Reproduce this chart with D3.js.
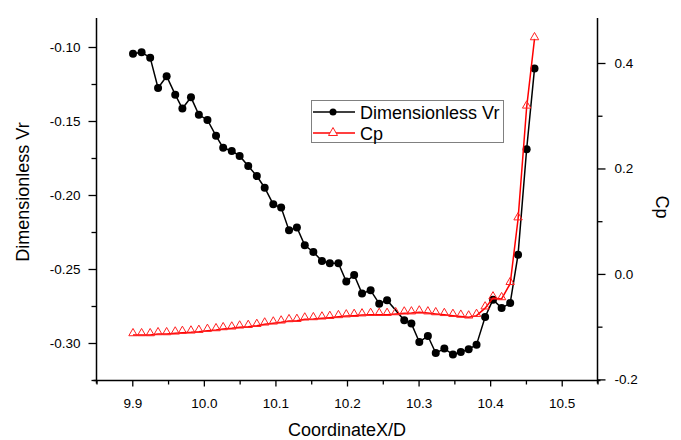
<!DOCTYPE html>
<html>
<head>
<meta charset="utf-8">
<script src="https://cdn.jsdelivr.net/npm/d3@7"></script>
<style>
  html, body { margin: 0; padding: 0; background: #fff; }
  text { font-family: "Liberation Sans", Arial, sans-serif; fill: #000; }
</style>
</head>
<body>
<svg id="chart" width="681" height="440"></svg>
<script>
// ---- data ----
const vrX = [9.901, 9.913, 9.925, 9.936, 9.948, 9.960, 9.970, 9.982, 9.993, 10.005,
             10.017, 10.027, 10.039, 10.050, 10.062, 10.074, 10.085, 10.097, 10.108, 10.119,
             10.130, 10.141, 10.153, 10.165, 10.176, 10.188, 10.199, 10.210, 10.221, 10.233,
             10.245, 10.256, 10.280, 10.290, 10.301, 10.313, 10.324, 10.336, 10.348,
             10.359, 10.370, 10.381, 10.393, 10.404, 10.416, 10.428, 10.439, 10.451, 10.462];
const vrY = [-0.1045, -0.1036, -0.1072, -0.1277, -0.1198, -0.1322, -0.1416, -0.1340, -0.1458, -0.1493,
             -0.1600, -0.1681, -0.1703, -0.1736, -0.1804, -0.1872, -0.1951, -0.2063, -0.2085, -0.2239,
             -0.2220, -0.2340, -0.2385, -0.2446, -0.2461, -0.2461, -0.2585, -0.2541, -0.2666, -0.2644,
             -0.2734, -0.2711, -0.2847, -0.2869, -0.2993, -0.2953, -0.3068, -0.3038, -0.3078,
             -0.3061, -0.3043, -0.3011, -0.2824, -0.2707, -0.2764, -0.2730, -0.2403, -0.1691, -0.1146];

const cpX = [9.901, 9.913, 9.925, 9.936, 9.948, 9.960, 9.970, 9.982, 9.993, 10.005,
             10.017, 10.027, 10.039, 10.050, 10.062, 10.074, 10.085, 10.097, 10.108, 10.119,
             10.130, 10.141, 10.153, 10.165, 10.176, 10.188, 10.199, 10.210, 10.221, 10.233,
             10.245, 10.256, 10.268, 10.280, 10.290, 10.301, 10.313, 10.324, 10.336, 10.348,
             10.359, 10.370, 10.381, 10.393, 10.404, 10.416, 10.428, 10.439, 10.451, 10.462];
const cpY = [-0.1157, -0.1157, -0.1157, -0.1138, -0.1138, -0.1125, -0.1113, -0.1106, -0.1094, -0.1075,
             -0.1062, -0.1043, -0.1030, -0.1011, -0.1000, -0.0981, -0.0954, -0.0935, -0.0916, -0.0891,
             -0.0886, -0.0859, -0.0853, -0.0840, -0.0829, -0.0814, -0.0800, -0.0791, -0.0781, -0.0772,
             -0.0772, -0.0772, -0.0759, -0.0745, -0.0743, -0.0726, -0.0743, -0.0759, -0.0774, -0.0791,
             -0.0806, -0.0821, -0.0791, -0.0649, -0.0459, -0.0474, -0.0186, 0.1040, 0.3160, 0.4456];

const xMajor = [9.9, 10.0, 10.1, 10.2, 10.3, 10.4, 10.5];
const xMinor = [9.85, 9.95, 10.05, 10.15, 10.25, 10.35, 10.45, 10.55];
const yLMajor = [-0.30, -0.25, -0.20, -0.15, -0.10];
const yLMinor = [-0.325, -0.275, -0.225, -0.175, -0.125];
const yRMajor = [-0.2, 0.0, 0.2, 0.4];
const yRMinor = [-0.1, 0.1, 0.3];

const xTitle = "CoordinateX/D";
const yLTitle = "Dimensionless Vr";
const yRTitle = "Cp";
const seriesNames = ["Dimensionless Vr", "Cp"];

// ---- layout ----
const L = 96.5, R = 597.5, T = 18, B = 380.5;
const svg = d3.select("#chart");

const x = d3.scaleLinear().domain([9.85, 10.55]).range([L, R]);
const yL = d3.scaleLinear().domain([-0.325, -0.08]).range([380, 17.4]);
const yR = d3.scaleLinear().domain([-0.2, 0.4]).range([379.4, 63.0]);

// axes
svg.append("g").attr("transform", `translate(0,${B})`)
  .call(d3.axisBottom(x).tickValues(xMajor).tickSize(6).tickPadding(12).tickFormat(d => d.toFixed(1)));
svg.append("g").attr("transform", `translate(0,${B})`)
  .call(d3.axisBottom(x).tickValues(xMinor).tickSize(4).tickFormat(""));

svg.append("g").attr("transform", `translate(${L},0)`)
  .call(d3.axisLeft(yL).tickValues(yLMajor).tickSize(8).tickPadding(8).tickFormat(d => d.toFixed(2)));
svg.append("g").attr("transform", `translate(${L},0)`)
  .call(d3.axisLeft(yL).tickValues(yLMinor).tickSize(5).tickFormat(""));

svg.append("g").attr("transform", `translate(${R},0)`)
  .call(d3.axisRight(yR).tickValues(yRMajor).tickSize(8).tickPadding(9).tickFormat(d => d.toFixed(1)));
svg.append("g").attr("transform", `translate(${R},0)`)
  .call(d3.axisRight(yR).tickValues(yRMinor).tickSize(5).tickFormat(""));

svg.selectAll(".domain").remove();
svg.selectAll(".tick line").attr("stroke", "#000").attr("stroke-width", 1.3);
svg.selectAll(".tick text").attr("font-size", 13.5).attr("font-family", "Liberation Sans, Arial, sans-serif").attr("fill", "#000");

// axis lines
svg.append("line").attr("x1", L - 3).attr("x2", R + 3).attr("y1", B).attr("y2", B).attr("stroke", "#000").attr("stroke-width", 1.5);
svg.append("line").attr("x1", L).attr("x2", L).attr("y1", T).attr("y2", B + 3).attr("stroke", "#000").attr("stroke-width", 1.5);
svg.append("line").attr("x1", R).attr("x2", R).attr("y1", T).attr("y2", B + 3).attr("stroke", "#000").attr("stroke-width", 1.5);

// titles
svg.append("text").attr("x", (L + R) / 2).attr("y", 436).attr("text-anchor", "middle")
  .attr("font-size", 18).text(xTitle);
svg.append("text").attr("transform", `translate(29,192) rotate(-90)`).attr("text-anchor", "middle")
  .attr("font-size", 18).text(yLTitle);
svg.append("text").attr("transform", `translate(656,207) rotate(90)`).attr("text-anchor", "middle")
  .attr("font-size", 18).text(yRTitle);

// series: Vr
const vrData = vrX.map((v, i) => [v, vrY[i]]);
const cpData = cpX.map((v, i) => [v, cpY[i]]);

svg.append("path").datum(vrData)
  .attr("d", d3.line().x(d => x(d[0])).y(d => yL(d[1])))
  .attr("fill", "none").attr("stroke", "#000").attr("stroke-width", 1.5);
svg.append("g").selectAll("circle").data(vrData).join("circle")
  .attr("cx", d => x(d[0])).attr("cy", d => yL(d[1])).attr("r", 4).attr("fill", "#000");

// series: Cp
svg.append("path").datum(cpData)
  .attr("d", d3.line().x(d => x(d[0])).y(d => yR(d[1])))
  .attr("fill", "none").attr("stroke", "#ff0000").attr("stroke-width", 1.5);
const tri = "M0,-6.5L4.2,0.8L-4.2,0.8Z";
svg.append("g").selectAll("path").data(cpData).join("path")
  .attr("transform", d => `translate(${x(d[0])},${yR(d[1])})`)
  .attr("d", tri).attr("fill", "none").attr("stroke", "#ff2020").attr("stroke-width", 1);

// legend
const lg = svg.append("g");
lg.append("rect").attr("x", 311.5).attr("y", 100.5).attr("width", 192).attr("height", 42)
  .attr("fill", "#fff").attr("stroke", "#808080").attr("stroke-width", 1);
lg.append("line").attr("x1", 313).attr("x2", 355).attr("y1", 112).attr("y2", 112).attr("stroke", "#000").attr("stroke-width", 1.5);
lg.append("circle").attr("cx", 333).attr("cy", 112).attr("r", 3.5).attr("fill", "#000");
lg.append("text").attr("x", 360).attr("y", 118.5).attr("font-size", 18).text(seriesNames[0]);
lg.append("line").attr("x1", 313).attr("x2", 355).attr("y1", 133).attr("y2", 133).attr("stroke", "#ff0000").attr("stroke-width", 1.5);
lg.append("path").attr("transform", "translate(333,133)").attr("d", "M0,-5.5L4.5,2.5L-4.5,2.5Z")
  .attr("fill", "#fff").attr("stroke", "#ff2020").attr("stroke-width", 1);
lg.append("text").attr("x", 360).attr("y", 139.5).attr("font-size", 18).text(seriesNames[1]);
</script>
</body>
</html>
